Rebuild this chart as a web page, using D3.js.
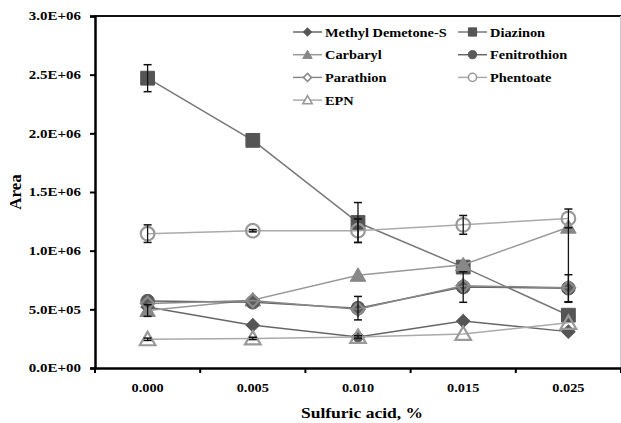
<!DOCTYPE html>
<html>
<head>
<meta charset="utf-8">
<style>
  body { margin: 0; background: #fff; }
  svg { display: block; font-family: "Liberation Serif", "Times New Roman", serif; font-weight: bold; }
  .axis path, .axis line { stroke: #000; }
</style>
</head>
<body>
<script src="https://cdn.jsdelivr.net/npm/d3@7"></script>
<script>
// data
var categories = ["0.000", "0.005", "0.010", "0.015", "0.025"];
var seriesNames = ["Methyl Demetone-S", "Diazinon", "Carbaryl", "Fenitrothion", "Parathion", "Phentoate", "EPN"];

var methylDemetone = [520000, 365000, 265000, 400000, 310000];
var diazinon       = [2470000, 1940000, 1240000, 860000, 450000];
var carbaryl       = [490000, 580000, 790000, 880000, 1200000];
var fenitrothion   = [570000, 560000, 510000, 690000, 680000];
var parathion      = [550000, 575000, 500000, 700000, 685000];
var phentoate      = [1145000, 1170000, 1170000, 1220000, 1275000];
var epn            = [245000, 252000, 265000, 290000, 385000];

// error bars (plus / minus)
var diazinonErrUp   = [115000, 0, 170000, 0, 0];
var diazinonErrDn   = [115000, 0, 170000, 0, 0];
var carbarylErrUp   = [50000, 0, 0, 0, 0];
var carbarylErrDn   = [50000, 0, 0, 0, 640000];
var fenitroErrUp    = [0, 0, 100000, 130000, 115000];
var fenitroErrDn    = [0, 0, 100000, 130000, 115000];
var phentoateErrUp  = [75000, 10000, 100000, 80000, 80000];
var phentoateErrDn  = [75000, 10000, 100000, 80000, 80000];
var epnErr          = [10000, 10000, 10000, 0, 0];

var yTicks = [0, 500000, 1000000, 1500000, 2000000, 2500000, 3000000];

var series = [
  {name: seriesNames[0], values: methylDemetone, shape: "diamond", fill: "#555", stroke: "#555", line: "#666"},
  {name: seriesNames[1], values: diazinon, shape: "square", fill: "#555", stroke: "#555", line: "#777", up: diazinonErrUp, dn: diazinonErrDn},
  {name: seriesNames[2], values: carbaryl, shape: "triangle", fill: "#888", stroke: "#888", line: "#999", up: carbarylErrUp, dn: carbarylErrDn},
  {name: seriesNames[3], values: fenitrothion, shape: "circle", fill: "#5a5a5a", stroke: "#5a5a5a", line: "#666", up: fenitroErrUp, dn: fenitroErrDn},
  {name: seriesNames[4], values: parathion, shape: "diamond", fill: "none", stroke: "#8a8a8a", line: "#888"},
  {name: seriesNames[5], values: phentoate, shape: "circle", fill: "none", stroke: "#999", line: "#aaa", up: phentoateErrUp, dn: phentoateErrDn},
  {name: seriesNames[6], values: epn, shape: "triangle", fill: "none", stroke: "#999", line: "#aaa", up: epnErr, dn: epnErr}
];

var W = 621, H = 423;
var margin = {top: 16, right: 0, bottom: 55, left: 95};
var width = 526, height = 352;

var svg = d3.select("body").append("svg").attr("width", W).attr("height", H);

var x = d3.scaleBand().domain(categories).range([0, width]);
var y = d3.scaleLinear().domain([0, 3000000]).range([height, 0]);

var g = svg.append("g").attr("transform", "translate(" + margin.left + "," + margin.top + ")");

// the original text looks stretched sideways
function widen(sel, k) {
  sel.each(function() {
    var w = this.getComputedTextLength();
    d3.select(this).attr("textLength", w * k).attr("lengthAdjust", "spacingAndGlyphs");
  });
}

// plot frame: top dark, right light
g.append("line").attr("x1", 0).attr("x2", width).attr("y1", 0).attr("y2", 0)
  .attr("stroke", "#111").attr("stroke-width", 2);
g.append("line").attr("x1", width - 0.5).attr("x2", width - 0.5).attr("y1", 0).attr("y2", height)
  .attr("stroke", "#ccc").attr("stroke-width", 1);

svg.append("clipPath").attr("id", "clip").append("rect")
  .attr("x", 0).attr("y", 0).attr("width", width).attr("height", height);

function symbolFor(shape) {
  if (shape == "diamond") return d3.symbolSquare;   // rotated below
  if (shape == "square") return d3.symbolSquare;
  if (shape == "triangle") return d3.symbolTriangle;
  return d3.symbolCircle;
}
function sizeFor(shape, big) {
  var k = big ? 1 : 0.36;
  if (shape == "diamond") return 88 * k;
  if (shape == "square") return 190 * k;
  if (shape == "triangle") return 105 * k;
  return 145 * k;
}
function rot(shape) { return shape == "diamond" ? " rotate(45)" : ""; }

var cx = function(i) { return x(categories[i]) + x.bandwidth() / 2; };

var plot = g.append("g").attr("clip-path", "url(#clip)");

var line = d3.line().x(function(d, i) { return cx(i); }).y(function(d) { return y(d); });

series.forEach(function(s) {
  var sg = plot.append("g");
  sg.append("path").datum(s.values)
    .attr("d", line)
    .attr("fill", "none")
    .attr("stroke", s.line)
    .attr("stroke-width", 1.5);
  sg.selectAll(".pt").data(s.values).enter().append("path")
    .attr("transform", function(d, i) { return "translate(" + cx(i) + "," + (y(d) + (s.shape == "triangle" ? 1.5 : 0)) + ")" + rot(s.shape); })
    .attr("d", d3.symbol().type(symbolFor(s.shape)).size(sizeFor(s.shape, true)))
    .attr("fill", s.fill == "none" ? "none" : s.fill)
    .attr("stroke", s.stroke)
    .attr("stroke-width", s.fill == "none" ? 2.2 : 1);
});

// error bars on top
series.forEach(function(s) {
  if (!s.up) return;
  s.values.forEach(function(v, i) {
    var up = s.up[i], dn = s.dn[i];
    if (!up && !dn) return;
    var xx = cx(i);
    plot.append("line").attr("x1", xx).attr("x2", xx)
      .attr("y1", y(v + up)).attr("y2", y(v - dn))
      .attr("stroke", "#111").attr("stroke-width", 1.3);
    if (up) plot.append("line").attr("x1", xx - 4).attr("x2", xx + 4)
      .attr("y1", y(v + up)).attr("y2", y(v + up)).attr("stroke", "#111").attr("stroke-width", 1.5);
    if (dn) plot.append("line").attr("x1", xx - 4).attr("x2", xx + 4)
      .attr("y1", y(v - dn)).attr("y2", y(v - dn)).attr("stroke", "#111").attr("stroke-width", 1.5);
  });
});

// axes
var fmt = function(d) {
  var e = d3.format(".1e")(d).replace("e", "E").toUpperCase();
  var parts = e.split("E");
  var sign = parts[1][0] == "-" ? "-" : "+";
  var exp = parts[1].replace(/[+-]/, "");
  if (exp.length < 2) exp = "0" + exp;
  return parts[0] + "E" + sign + exp;
};

var yAxis = g.append("g").attr("class", "axis")
  .call(d3.axisLeft(y).tickValues(yTicks).tickFormat(fmt).tickSize(5).tickPadding(9));
yAxis.select(".domain").attr("stroke-width", 2.5);
yAxis.selectAll("line").attr("stroke-width", 2);
yAxis.selectAll("text").attr("font-size", 11.5).attr("font-family", "Liberation Serif").attr("font-weight", "bold")
  .call(widen, 1.3);

var xAxis = g.append("g").attr("class", "axis").attr("transform", "translate(0," + height + ")")
  .call(d3.axisBottom(x).tickSize(0).tickPadding(15));
xAxis.select(".domain").attr("stroke-width", 2.5);
xAxis.selectAll("text").attr("font-size", 13).attr("font-family", "Liberation Serif").attr("font-weight", "bold")
  .call(widen, 1.1);
// tick marks sit between categories
xAxis.selectAll(".sep").data(d3.range(0, categories.length + 1)).enter().append("line")
  .attr("x1", function(i) { return i * x.bandwidth(); })
  .attr("x2", function(i) { return i * x.bandwidth(); })
  .attr("y1", 0).attr("y2", 5)
  .attr("stroke", "#000").attr("stroke-width", 2);

// axis titles
svg.append("text")
  .attr("transform", "translate(21," + (margin.top + height / 2) + ") rotate(-90)")
  .attr("text-anchor", "middle")
  .attr("font-size", 17)
  .text("Area");

svg.append("text")
  .attr("x", 362)
  .attr("y", 418)
  .attr("text-anchor", "middle")
  .attr("font-size", 15.5)
  .text("Sulfuric acid, %")
  .call(widen, 1.13);

// legend
var legend = svg.append("g").attr("transform", "translate(293,32)");
series.forEach(function(s, i) {
  var col = i % 2, row = Math.floor(i / 2);
  var lg = legend.append("g").attr("transform", "translate(" + (col * 165) + "," + (row * 22.7) + ")");
  lg.append("line").attr("x1", 0).attr("x2", 29).attr("y1", 0).attr("y2", 0)
    .attr("stroke", s.line).attr("stroke-width", 1.5);
  lg.append("path")
    .attr("transform", "translate(14.5," + (s.shape == "triangle" ? 1 : 0) + ")" + rot(s.shape))
    .attr("d", d3.symbol().type(symbolFor(s.shape)).size(sizeFor(s.shape, false)))
    .attr("fill", s.fill == "none" ? "#fff" : s.fill)
    .attr("stroke", s.stroke)
    .attr("stroke-width", s.fill == "none" ? 1.6 : 1);
  lg.append("text").attr("x", 32).attr("y", 4.5)
    .attr("font-size", 12.5)
    .text(s.name)
    .call(widen, 1.15);
});
</script>
</body>
</html>
